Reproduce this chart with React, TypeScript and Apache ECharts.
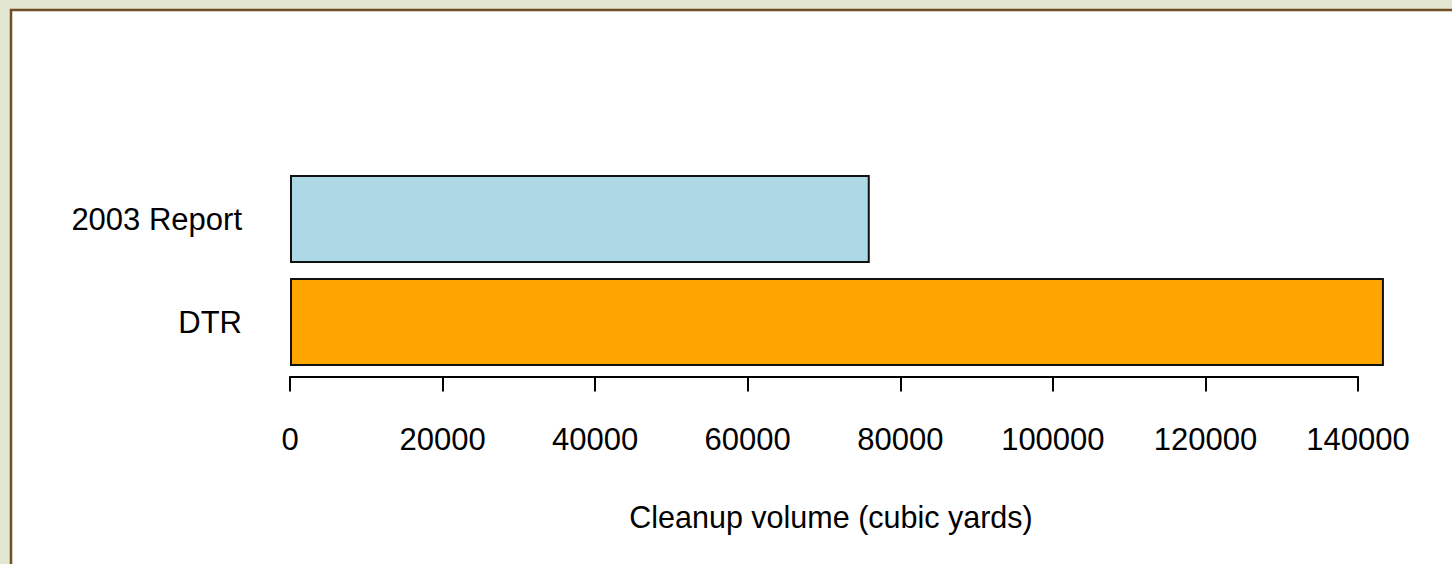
import React, { useEffect, useRef } from "react";
import * as echarts from "echarts";

const categories = ["DTR", "2003 Report"];
const values = [143400, 76000];
const barColors = ["#FFA500", "#ADD8E6"];
const xTicksMax = 140000;
const xTickStep = 20000;
const xTitle = "Cleanup volume (cubic yards)";

const FONT = "'Liberation Sans', Arial, sans-serif";

export default function App() {
  const ref = useRef<HTMLDivElement>(null);
  useEffect(() => {
    if (!ref.current) return;
    const chart = echarts.init(ref.current, null, { renderer: "svg" });
    chart.setOption({
      animation: false,
      backgroundColor: "#E3E6D1",
      graphic: [
        {
          type: "rect",
          z: -10,
          shape: { x: 11, y: 10, width: 1460, height: 580 },
          style: { fill: "#FFFFFF", stroke: "#6E4E22", lineWidth: 2.5 },
          silent: true,
        },
      ],
      grid: { left: 290, right: 94, top: 167.5, bottom: 190.5, containLabel: false },
      xAxis: {
        type: "value",
        min: 0,
        max: xTicksMax,
        interval: xTickStep,
        offset: 3,
        axisLine: { show: true, lineStyle: { color: "#000", width: 2 } },
        axisTick: { show: true, length: 15, lineStyle: { color: "#000", width: 2 } },
        splitLine: { show: false },
        axisLabel: {
          fontSize: 31,
          color: "#000",
          fontFamily: FONT,
          margin: 47,
          formatter: (v: number) => String(v),
        },
        name: xTitle,
        nameLocation: "middle",
        nameGap: 125,
        nameTextStyle: { fontSize: 30.5, color: "#000", fontFamily: FONT, padding: [0, 0, 0, 14] },
      },
      yAxis: {
        type: "category",
        data: categories,
        axisLine: { show: false },
        axisTick: { show: false },
        splitLine: { show: false },
        axisLabel: { fontSize: 31, color: "#000", fontFamily: FONT, margin: 48 },
      },
      series: [
        {
          type: "bar",
          clip: false,
          barWidth: 88,
          data: values.map((v, i) => ({
            value: v,
            itemStyle: { color: barColors[i], borderColor: "#111", borderWidth: 2 },
          })),
        },
      ],
    });
    return () => chart.dispose();
  }, []);
  return (
    <div
      ref={ref}
      style={{ position: "fixed", left: 0, top: 0, width: 1452, height: 564 }}
    />
  );
}
